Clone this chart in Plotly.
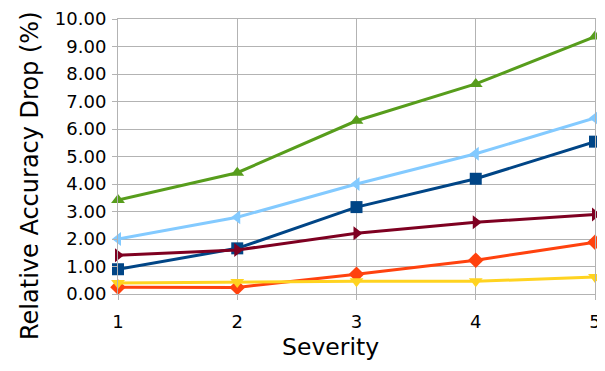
import plotly.graph_objects as go

severity = [1, 2, 3, 4, 5]

green_vals = [3.42, 4.41, 6.30, 7.64, 9.36]
lightblue_vals = [2.00, 2.79, 4.00, 5.10, 6.40]
darkblue_vals = [0.90, 1.66, 3.16, 4.19, 5.54]
maroon_vals = [1.41, 1.60, 2.21, 2.61, 2.89]
orange_vals = [0.25, 0.24, 0.72, 1.23, 1.88]
yellow_vals = [0.40, 0.44, 0.46, 0.46, 0.62]

ytick_vals = [0, 1, 2, 3, 4, 5, 6, 7, 8, 9, 10]
ytick_text = ["%.2f" % v for v in ytick_vals]

series = [
    (green_vals, "#579d1c", "triangle-up"),
    (lightblue_vals, "#83caff", "triangle-left"),
    (darkblue_vals, "#004586", "square"),
    (maroon_vals, "#7e0021", "triangle-right"),
    (orange_vals, "#ff420e", "diamond"),
    (yellow_vals, "#ffd320", "triangle-down"),
]

fig = go.Figure()
for vals, color, symbol in series:
    fig.add_trace(go.Scatter(
        x=severity, y=vals, mode="lines+markers",
        line=dict(color=color, width=3),
        marker=dict(color=color, symbol=symbol, size=12),
        cliponaxis=False, showlegend=False,
    ))

# page body has an 8px margin, so the figure is shrunk to fit the window
fig.update_layout(
    width=597, height=363,
    margin=dict(l=110, r=10, t=11, b=77),
    plot_bgcolor="white", paper_bgcolor="white",
    font=dict(family="DejaVu Sans", color="black"),
)
fig.update_xaxes(
    range=[1, 5], tickvals=severity, showgrid=True, gridcolor="#b3b3b3",
    showline=True, linecolor="#b3b3b3", mirror=True,
    ticks="outside", ticklen=5, tickcolor="#b3b3b3",
    tickfont=dict(size=18), zeroline=False, automargin=False,
    ticklabeloverflow="allow", ticklabelstandoff=6,
)
fig.update_yaxes(
    range=[0, 10], tickvals=ytick_vals, ticktext=ytick_text,
    showgrid=True, gridcolor="#b3b3b3",
    showline=True, linecolor="#b3b3b3", mirror=True,
    ticks="outside", ticklen=5, tickcolor="#b3b3b3",
    tickfont=dict(size=18), zeroline=False, automargin=False,
    ticklabeloverflow="allow", ticklabelstandoff=2,
)

# axis titles as annotations so they can sit off-centre like the original
fig.add_annotation(
    text="Severity", xref="paper", yref="paper", x=0.4465, y=-0.1927,
    xanchor="center", yanchor="middle", showarrow=False,
    font=dict(size=23.5),
)
fig.add_annotation(
    text="Relative Accuracy Drop (%)", xref="paper", yref="paper",
    x=-0.1845, y=0.4327, xanchor="center", yanchor="middle",
    textangle=-90, showarrow=False, font=dict(size=24),
)

fig.write_html("out.html")
